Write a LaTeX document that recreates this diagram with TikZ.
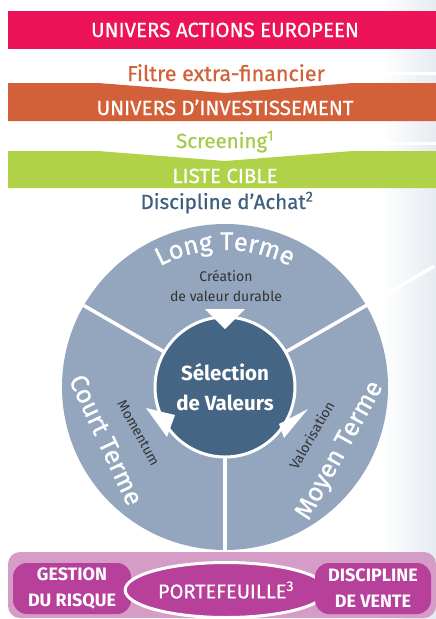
\documentclass[tikz,border=0pt]{standalone}
\usepackage{fontspec}
\setmainfont{Fira Sans}
\newfontfamily\firamedium{Fira Sans}[FakeBold = 0.7]
\usetikzlibrary{positioning, calc, shapes.geometric, decorations.text}

\definecolor{universpink}{HTML}{ED1359}
\definecolor{investorange}{HTML}{D2613A}
\definecolor{ciblegreen}{HTML}{AFD249}
\definecolor{screengreen}{HTML}{A6CB4B}
\definecolor{achatblue}{HTML}{3F5F80}
\definecolor{termegrey}{HTML}{93A6BE}
\definecolor{valeurblue}{HTML}{456584}
\definecolor{gestionbg}{HTML}{D59CC8}
\definecolor{gestionbox}{HTML}{B6409A}
\definecolor{pagegrey}{HTML}{E6ECF2}

\begin{document}
\begin{tikzpicture}
    [x = 1pt, y = 1pt, outer sep = 0pt,
    band/.style = {text = white, anchor = base, font =
      \firamedium\fontsize{20.5}{20.5}\selectfont},
    filter/.style = {anchor = base, font =
      \firamedium\fontsize{20.5}{20.5}\selectfont},
    terme/.style = {text = white, inner sep = 0pt, font =
      \firamedium\fontsize{25.5}{25.5}\selectfont},
    critere/.style = {text = black!80, align = center, inner sep = 0pt,
      font = \fontsize{14}{20}\selectfont},
    gestion_box/.style = {rectangle, rounded corners = 14pt, fill =
      gestionbox, text = white, align = center, minimum width = 118pt,
      minimum height = 51pt, inner sep = 0pt, font =
      \bfseries\fontsize{18}{26}\selectfont}]

    \useasboundingbox (0,0) rectangle (436,-619);
    \fill[left color = white, right color = pagegrey] (380,0) rectangle (436,-619);
    \fill[white] (330,-71.5) rectangle (436,-74.5);
    \fill[white] (330,-141.5) rectangle (436,-144.5);

    \fill[universpink] (8,-11) rectangle (436,-49);
    \fill[investorange] (8,-83) -- (98,-83) -- (225,-93) -- (353,-83) --
    (436,-83) -- (436,-121) -- (8,-121) -- cycle;
    \fill[ciblegreen] (8,-151) -- (98,-151) -- (225,-161) -- (353,-151) --
    (436,-151) -- (436,-188) -- (8,-188) -- cycle;

    \node [band] (univers_actions) at (225,-37) {UNIVERS ACTIONS EUROPEEN};
    \node [filter, text = investorange, font =
    \firamedium\fontsize{21.5}{21.5}\selectfont] (filtre) at (226,-81)
    {Filtre extra-financier};
    \node [band] (univers_invest) at (225,-115) {UNIVERS D’INVESTISSEMENT};
    \node [filter, text = screengreen] (screening) at (225,-148)
    {Screening\textsuperscript{1}};
    \node [band] (liste_cible) at (225,-183) {LISTE CIBLE};
    \node [filter, text = achatblue] (discipline_achat) at (227,-209)
    {Discipline d’Achat\textsuperscript{2}};

    \coordinate (centre) at (225,-387);
    \fill[termegrey] (centre) circle (163);
    \foreach \a/\r in {150/163, 30/242, 270/163}
      \draw[white, line width = 3.5pt] ($(centre)+(\a:70)$) -- ($(centre)+(\a:\r)$);

    \node [circle, fill = valeurblue, draw = white, line width = 3pt,
    minimum size = 140pt, text = white, align = center, font =
    \bfseries\fontsize{20.5}{30}\selectfont] (selection) at (centre)
    {Sélection\\de Valeurs};

    \fill[white] (205,-309) -- (245,-309) -- (225,-329) -- cycle;
    \fill[white] (146,-408) -- (175,-415) -- (167,-437) -- cycle;
    \fill[white] (279,-424) -- (308,-409) -- (284,-438) -- cycle;

    \path [decorate, decoration = {text along path, text align = center,
      text = {|\firamedium\fontsize{25.5}{25.5}\selectfont\color{white}|Long Terme}}]
    ($(centre)+(165:137)$) arc[start angle = 165, end angle = 15, radius = 137];
    \node [terme, rotate = -65] (court_terme) at ($(centre)+(204:130)$) {Court Terme};
    \node [terme, rotate = 61] (moyen_terme) at ($(centre)+(-29:132)$) {Moyen Terme};

    \node [critere] (creation) at (226,-286) {Création\\de valeur durable};
    \node [critere, rotate = -61] (momentum) at ($(centre)+(208:98)$) {Momentum};
    \node [critere, rotate = 60] (valorisation) at ($(centre)+(-29:99)$) {Valorisation};

    \fill[gestionbg, rounded corners = 12pt] (8,-552) rectangle (436,-618);
    \node [gestion_box] (gestion_risque) at (72,-588.5) {GESTION\\DU RISQUE};
    \node [ellipse, fill = gestionbox, draw = white, line width = 3pt,
    minimum width = 174pt, minimum height = 55pt, text = white, font =
    \firamedium\fontsize{20}{20}\selectfont] (portefeuille) at (226,-590)
    {PORTEFEUILLE\textsuperscript{3}};
    \node [gestion_box, minimum width = 116pt] (discipline_vente) at (373,-588.5)
    {DISCIPLINE\\DE VENTE};
  \end{tikzpicture}
\end{document}
